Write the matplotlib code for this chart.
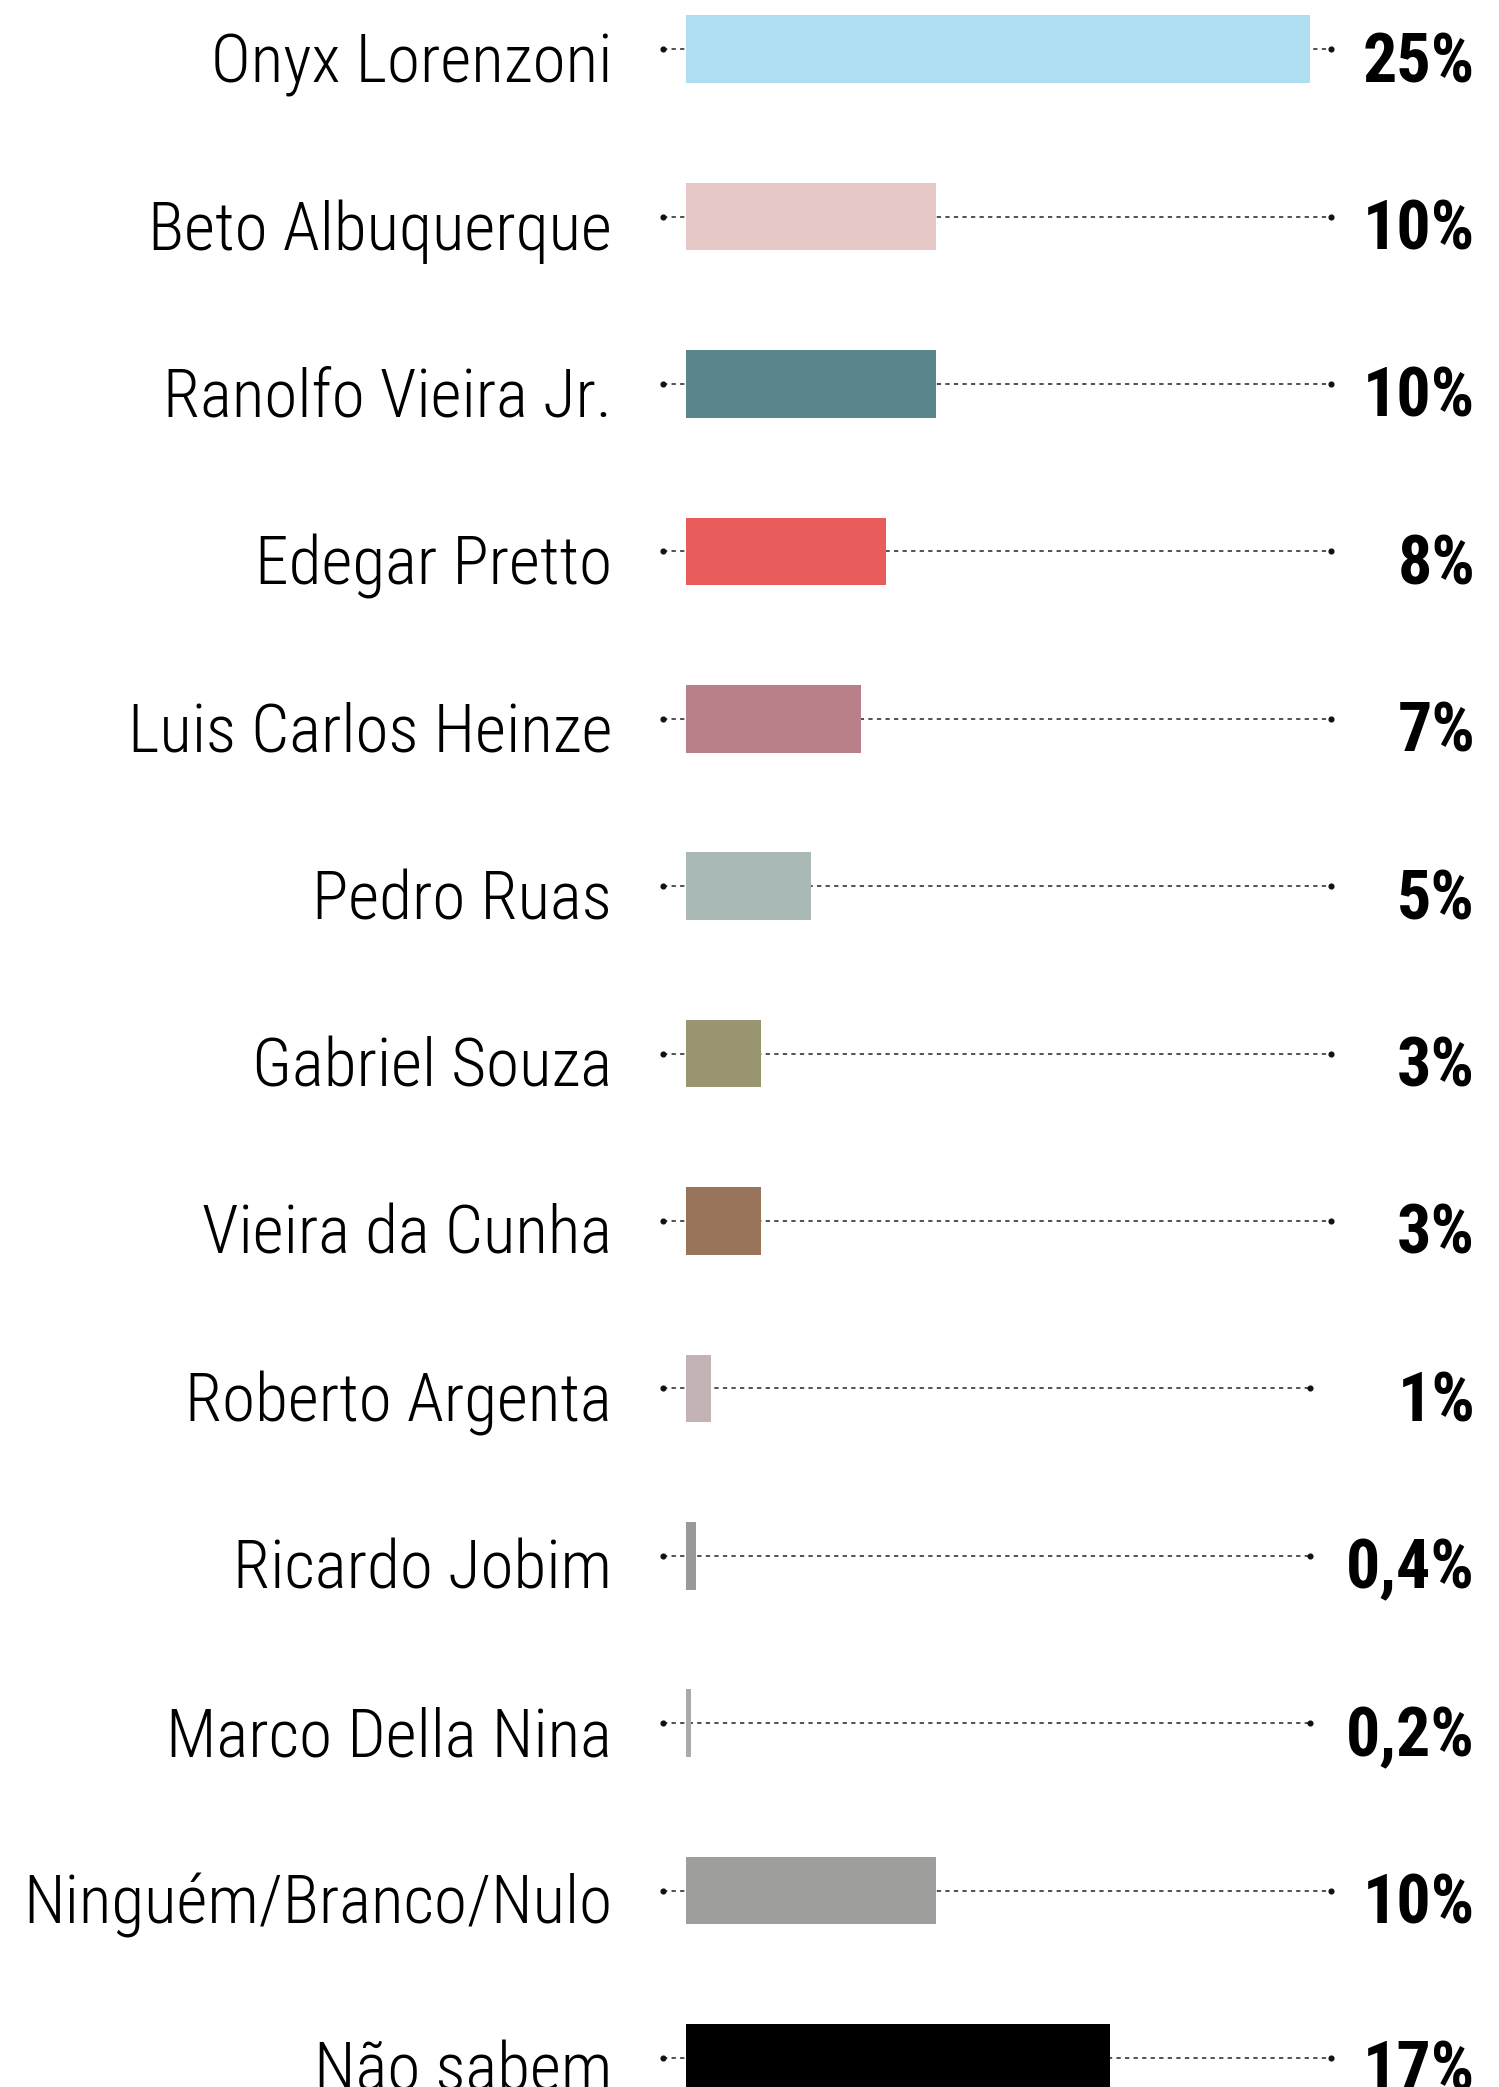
import matplotlib
matplotlib.use("Agg")
import matplotlib.pyplot as plt
from matplotlib import font_manager

names = ["Onyx Lorenzoni", "Beto Albuquerque", "Ranolfo Vieira Jr.", "Edegar Pretto",
         "Luis Carlos Heinze", "Pedro Ruas", "Gabriel Souza", "Vieira da Cunha",
         "Roberto Argenta", "Ricardo Jobim", "Marco Della Nina", "Ninguém/Branco/Nulo",
         "Não sabem"]
values = [25, 10, 10, 8, 7, 5, 3, 3, 1, 0.4, 0.2, 10, 17]
value_labels = ["25%", "10%", "10%", "8%", "7%", "5%", "3%", "3%", "1%", "0,4%", "0,2%",
                "10%", "17%"]
colors = ["#AFDEF2", "#E6C8C7", "#5A858C", "#E85D5B", "#BA8089", "#A8B9B6", "#9A9571",
          "#98755A", "#C4B3B5", "#999999", "#AAAAAA", "#9E9E9D", "#000000"]

avail = {f.name for f in font_manager.fontManager.ttflist}
cands = ["Roboto Condensed", "Liberation Sans Narrow", "Open Sans Condensed", "Liberation Sans"]
fam = [c for c in cands if c in avail][:1] + ["DejaVu Sans"]

W, H = 1499, 2087
fig = plt.figure(figsize=(W / 100, H / 100), dpi=100)
ax = fig.add_axes([0, 0, 1, 1])
px_per_unit = 24.96
x0 = 686
row0, row_step = 49.2, 167.4
ax.set_xlim(-x0 / px_per_unit, (W - x0) / px_per_unit)
ax.set_ylim((H - row0) / row_step, -row0 / row_step)
ax.axis("off")

ys = list(range(len(names)))
for y, v, lab, c, nm in zip(ys, values, value_labels, colors, names):
    line_end = 25.0 if v < 2 else 25.84
    ax.plot([-0.92, line_end], [y, y], color="#222222", lw=1.1,
            linestyle=(0, (2.8, 2.8)), zorder=1)
    ax.plot([-0.92, line_end], [y, y], "o", color="#111111", ms=3.4, zorder=1)
    ax.barh(y, v, height=0.405, color=c, zorder=2)
    ax.text(-2.96, y + 0.197, nm, ha="right", va="baseline", fontsize=48.5,
            family=fam, fontweight="light", color="#000000")
    ax.text(31.62, y + 0.197, lab, ha="right", va="baseline", fontsize=49,
            family=fam, fontweight="heavy", color="#000000")

fig.savefig("out.png", dpi=100)
